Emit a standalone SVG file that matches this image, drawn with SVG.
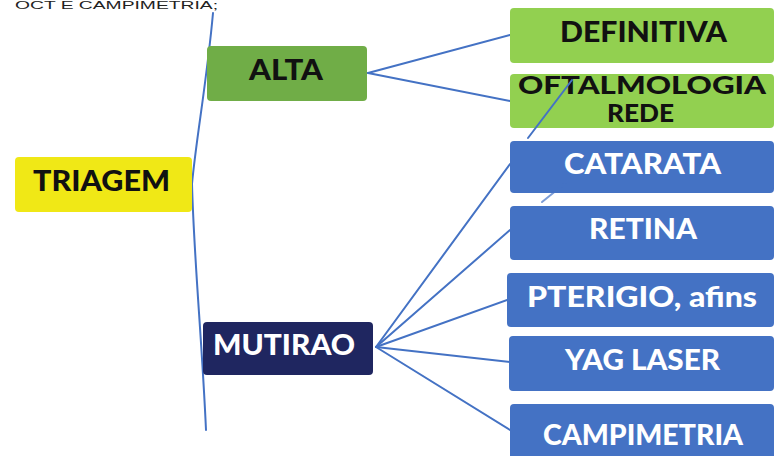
<svg xmlns="http://www.w3.org/2000/svg" width="774" height="456" viewBox="0 0 774 456">
<style>
.box{stroke:none}
.t{font-family:Lato,"Open Sans","Liberation Sans",sans-serif;font-weight:900;font-size:28px;text-anchor:middle}
.s{font-size:25px}
.dark{fill:#111111}
.light{fill:#ffffff}
.c{fill:none;stroke:#4472C4;stroke-width:2;stroke-linecap:round}
</style>
<rect width="774" height="456" fill="#ffffff"/>
<text x="15" y="9" font-family="'Liberation Sans',sans-serif" font-size="10" fill="#222" textLength="203" lengthAdjust="spacingAndGlyphs">OCT E CAMPIMETRIA;</text>
<g id="connectors">
<path class="c" d="M213,13 C207,80 196,140 192,184 C194,260 202,340 206,430"/>
<line class="c" x1="368" y1="73" x2="510" y2="35"/>
<line class="c" x1="368" y1="73" x2="510" y2="101"/>
<line class="c" x1="376" y1="347" x2="510" y2="164"/>
<line class="c" x1="376" y1="347" x2="510" y2="230"/>
<line class="c" x1="376" y1="347" x2="510" y2="299"/>
<line class="c" x1="376" y1="347" x2="510" y2="362"/>
<line class="c" x1="376" y1="347" x2="510" y2="430"/>
</g>
<g id="triagem"><rect class="box" x="15" y="157" width="177" height="55" rx="4" fill="#F0E816"/><text class="t dark" x="101.5" y="191" textLength="137" lengthAdjust="spacingAndGlyphs">TRIAGEM</text></g>
<g id="alta"><rect class="box" x="207" y="46" width="160" height="55" rx="4" fill="#70AD47"/><text class="t dark" x="286" y="80" textLength="74" lengthAdjust="spacingAndGlyphs">ALTA</text></g>
<g id="definitiva"><rect class="box" x="510" y="8" width="264" height="55" rx="4" fill="#92D050"/><text class="t dark" x="643.5" y="42" textLength="167" lengthAdjust="spacingAndGlyphs">DEFINITIVA</text></g>
<g id="oftalmologia"><rect class="box" x="510" y="74" width="264" height="54" rx="4" fill="#92D050"/><text class="t dark s" x="642" y="94" textLength="248" lengthAdjust="spacingAndGlyphs">OFTALMOLOGIA</text><text class="t dark s" x="640.5" y="122" textLength="67" lengthAdjust="spacingAndGlyphs">REDE</text></g>
<g id="mutirao"><rect class="box" x="203" y="322" width="170" height="53" rx="4" fill="#1F2660"/><text class="t light" x="284" y="355" textLength="142" lengthAdjust="spacingAndGlyphs">MUTIRAO</text></g>
<g id="catarata"><rect class="box" x="510" y="141" width="264" height="52" rx="4" fill="#4472C4"/><text class="t light" x="642.5" y="174" textLength="157" lengthAdjust="spacingAndGlyphs">CATARATA</text></g>
<g id="retina"><rect class="box" x="510" y="206" width="264" height="54" rx="4" fill="#4472C4"/><text class="t light" x="643" y="239" textLength="108" lengthAdjust="spacingAndGlyphs">RETINA</text></g>
<g id="pterigio"><rect class="box" x="507" y="273" width="267" height="54" rx="4" fill="#4472C4"/><text class="t light" x="642" y="307" textLength="230" lengthAdjust="spacingAndGlyphs">PTERIGIO, afins</text></g>
<g id="yag"><rect class="box" x="509" y="336" width="265" height="55" rx="4" fill="#4472C4"/><text class="t light" x="642.5" y="370" textLength="155" lengthAdjust="spacingAndGlyphs">YAG LASER</text></g>
<g id="campimetria"><rect class="box" x="510" y="404" width="264" height="60" rx="4" fill="#4472C4"/><text class="t light" x="643" y="445" textLength="200" lengthAdjust="spacingAndGlyphs">CAMPIMETRIA</text></g>
<g id="connector-fragments">
<line class="c" x1="528" y1="138" x2="572" y2="80"/>
<line class="c" x1="542" y1="202" x2="573" y2="177" stroke-opacity="0.7"/>
</g>
</svg>
